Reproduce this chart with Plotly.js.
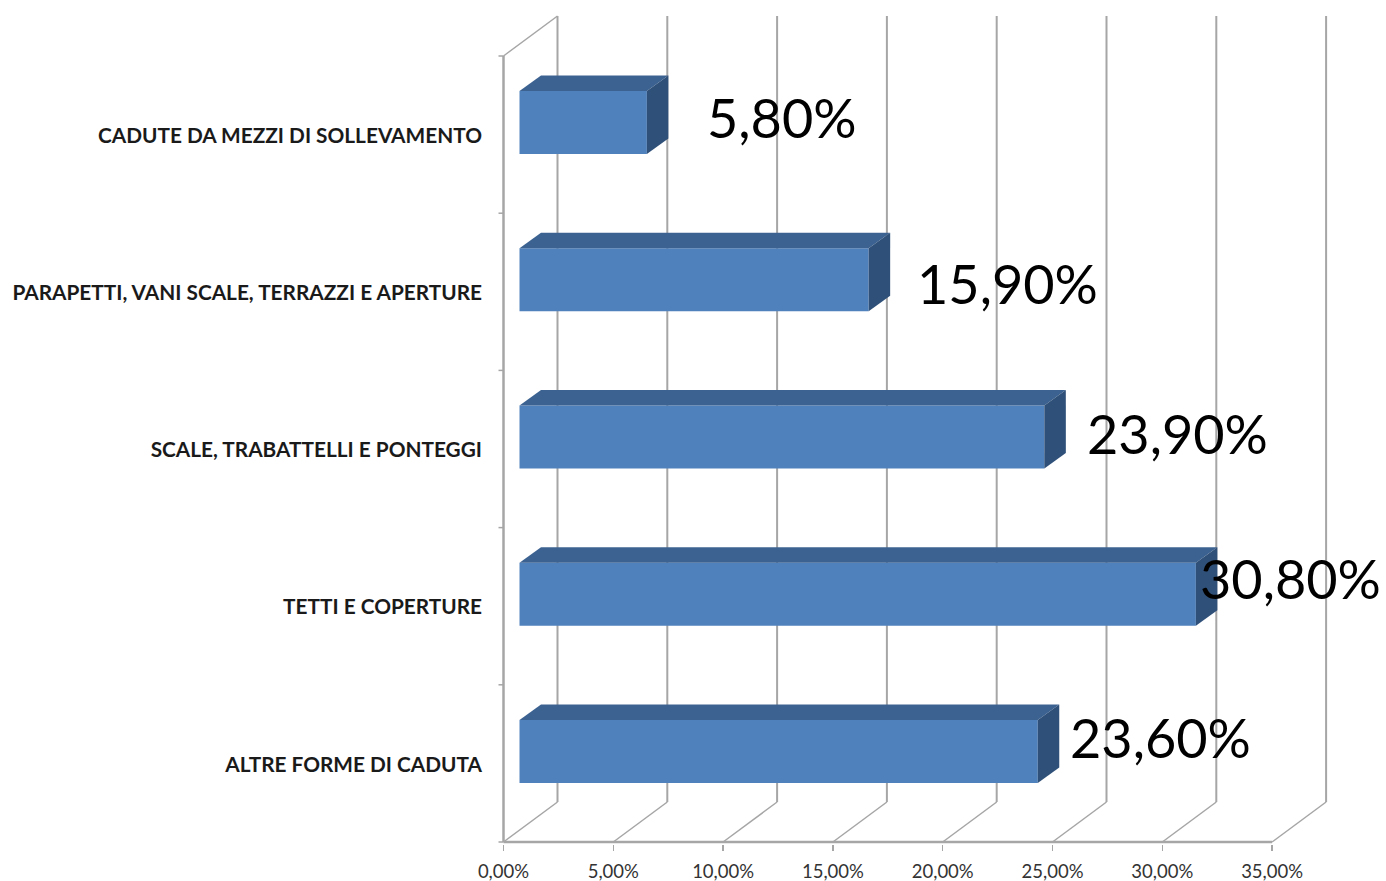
<!DOCTYPE html>
<html>
<head>
<meta charset="utf-8">
<script src="https://cdn.plot.ly/plotly-3.0.1.min.js"></script>
<style>html,body{margin:0;padding:0;background:#fff}#chart{width:1386px;height:881px}</style>
</head>
<body>
<div id="chart"></div>
<script>
const categories = ["ALTRE FORME DI CADUTA", "TETTI E COPERTURE", "SCALE, TRABATTELLI E PONTEGGI", "PARAPETTI, VANI SCALE, TERRAZZI E APERTURE", "CADUTE DA MEZZI DI SOLLEVAMENTO"];
const values = [23.6, 30.8, 23.9, 15.9, 5.8];
const xTickValues = [0, 5, 10, 15, 20, 25, 30, 35];
const labelShiftX = [30, 2, 41, 46, 58];
const labelShiftY = [25.5, 28, 16, 8, 17.5];

const pxX = 21.96, pxY = 157.2;
const wallDx = 54 / pxX, wallDy = 40 / pxY;
const barStart = 16 / pxX, barDx = 21.5 / pxX, barDy = 15.5 / pxY;
const barShift = 12 / pxY, barWidth = 63 / pxY;
const yBottom = -0.5, yTop = categories.length - 0.5;
const GRID = "#a6a6a6", FRONT = "#4f81bd", TOP = "#3c6291", SIDE = "#2f5079";
const idx = categories.map((_, i) => i);

function line(x0, y0, x1, y1, w) {
  return {type: "line", layer: "below", xref: "x", yref: "y", x0, y0, x1, y1, line: {color: GRID, width: w}};
}
const shapes = [];
xTickValues.forEach(v => {
  shapes.push(line(v + wallDx, yBottom + wallDy, v + wallDx, yTop + wallDy, 2));
  shapes.push(line(v, yBottom, v + wallDx, yBottom + wallDy, 1.5));
});
shapes.push(line(0, yBottom, 0, yTop, 2.5));
shapes.push(line(0, yTop, wallDx, yTop + wallDy, 1.5));
shapes.push(line(0, yBottom, xTickValues[xTickValues.length - 1], yBottom, 2.5));
for (let i = 0; i <= categories.length; i++) {
  shapes.push(line(-5 / pxX, yBottom + i, 0, yBottom + i, 1.5));
}

function poly(xs, ys, color) {
  return {type: "scatter", mode: "lines", x: xs, y: ys, fill: "toself", fillcolor: color,
          line: {width: 0, color: color}, hoverinfo: "skip", showlegend: false};
}
const traces = [];
idx.forEach(i => {
  const v = values[i], x0 = barStart, x1 = barStart + v;
  const yc = i + barShift, yt = yc + barWidth / 2, yb = yc - barWidth / 2;
  traces.push(poly([x0, x0 + barDx, x1 + barDx, x1, x0], [yt, yt + barDy, yt + barDy, yt, yt], TOP));
  traces.push(poly([x1, x1 + barDx, x1 + barDx, x1, x1], [yt, yt + barDy, yb + barDy, yb, yt], SIDE));
});
traces.unshift({type: "bar", orientation: "h", x: values, y: idx.map(i => i + barShift),
  base: barStart, width: barWidth, marker: {color: FRONT, line: {width: 0}}, showlegend: false});

const annotations = idx.map(i => ({
  xref: "x", yref: "y", x: barStart + values[i], y: i, xshift: labelShiftX[i], yshift: labelShiftY[i],
  xanchor: "left", yanchor: "middle", showarrow: false, align: "left",
  text: values[i].toFixed(2).replace(".", ",") + "%",
  font: {family: "Lato", size: 54, color: "#000"}
}));

const layout = {
  width: 1386, height: 881,
  margin: {l: 494, r: 0, t: 10, b: 36.5, pad: 0},
  paper_bgcolor: "#fff", plot_bgcolor: "#fff",
  showlegend: false, barmode: "overlay",
  xaxis: {
    range: [-9.5 / pxX, 882.5 / pxX], showgrid: false, zeroline: false, showline: false,
    tickmode: "array", tickvals: xTickValues,
    ticktext: xTickValues.map(v => v.toFixed(2).replace(".", ",") + "%"),
    ticks: "outside", ticklen: 6, tickwidth: 1.5, tickcolor: GRID, ticklabelstandoff: 5,
    tickfont: {family: "Lato", size: 18.5, color: "#333"}
  },
  yaxis: {
    range: [yBottom - 2 / pxY, yTop + (56 - 10) / pxY], showgrid: false, zeroline: false, showline: false,
    tickmode: "array", tickvals: idx.map(i => i - 1 / pxY), ticktext: categories, ticks: "", ticklabelstandoff: 11,
    tickfont: {family: "Lato", size: 20.8, color: "#1a1a1a", weight: "bold"}
  },
  shapes, annotations
};
Plotly.newPlot("chart", traces, layout, {displayModeBar: false, staticPlot: true});
</script>
</body>
</html>
